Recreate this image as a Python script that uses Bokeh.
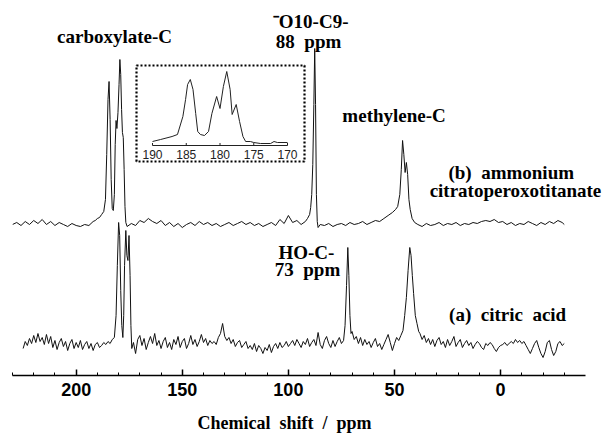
from bokeh.plotting import figure
from bokeh.models import Range1d, FixedTicker, Label
from bokeh.embed import file_html
from bokeh.resources import INLINE

# ---------------- data ----------------
# (b) ammonium citratoperoxotitanate: chemical shift (ppm) and intensity above its baseline
b_ppm = [230, 228, 226, 224, 222, 220, 218, 216, 214, 212, 210, 208, 206, 204, 202, 200, 198, 196, 194, 192,
         191, 190, 189, 188, 187, 186.2, 185.6, 185, 184.5, 184, 183.5, 183, 182.5, 182, 181.6, 181.2, 180.8,
         180.3, 179.8, 179.4, 179, 178.6, 178.2, 177.8, 177.4, 177, 176.6, 176,
         174, 172, 170, 168, 166, 164, 162, 160, 158, 156, 154, 152, 150, 148, 146, 144, 142, 140, 138, 136,
         134, 132, 130, 128, 126, 124, 122, 120, 118, 116, 114, 112, 110, 108, 106, 104, 102, 100, 98, 96, 94,
         92, 91, 90, 89.5, 89, 88.5, 88, 87.6, 87.2, 86.8, 86.4, 86,
         85, 83, 81, 79, 77, 75, 73, 71, 69, 67, 65, 63, 61, 59, 57, 55, 53, 51, 49.5, 48.5, 47.5, 46.8, 46.2,
         45.6, 45, 44.4, 43.8, 43.2, 42.6, 41.7, 40.5, 39, 37, 35, 33, 31, 29, 27, 25, 23, 21, 19, 17, 15, 13,
         11, 9, 7, 5, 3, 1, -1, -3, -5, -7, -9, -11, -13, -15, -17, -19, -21, -23, -25, -27, -29, -30]
b_int = [0, 2, -1, 3, 0, 4, 1, 5, 0, 3, -1, 2, 0, -2, 1, -1, -2, 0, -1, 3,
         4, 6, 7, 10, 13, 25, 70, 125, 143, 105, 45, 16, 14, 30, 80, 104, 96,
         112, 140, 165, 150, 115, 92, 87, 55, 18, 2, -2,
         1, -1, 4, 2, 6, 3, 1, 4, -1, 2, -2, 1, -3, 0, 2, -1, 3, 0, 2, -1,
         1, -2, 0, 2, -1, 1, 3, 0, 2, -1, 1, -2, 0, 2, -1, 5, 1, 9, 2, 4, 0,
         3, 6, 10, 17, 30, 60, 120, 176, 120, 30, 3, -3,
         0, -1, 1, -2, 0, 1, -1, 2, 0, 1, 3, 0, 2, 4, 3, 6, 9, 12, 15, 18, 30, 55, 84,
         70, 52, 62, 50, 25, 15, 6, 2, 0, -2, 1, -1, 0, 2, -1, 1, 0, 2, -1, 1, 0, 2,
         1, 3, 4, 3, 5, 2, 3, 0, 2, -1, 1, 0, 3, 1, -1, 2, 0, 3, 1, 4, 2, 0]

# (a) citric acid
a_ppm = [225, 224, 223, 222, 221, 220, 219, 218, 217, 216, 215, 214, 213, 212, 211, 210, 209, 208, 207, 206,
         205, 204, 203, 202, 201, 200, 199, 198, 197, 196, 195, 194, 193, 192, 191, 190, 189, 188, 187, 186,
         185, 184, 183, 182, 181.2, 180.6, 180, 179.5, 179, 178.5, 178, 177.6, 177.2, 176.6, 176.1, 175.6,
         175.1, 174.6, 174.2, 173.8, 173, 172, 171, 170, 169, 168, 167, 166, 165, 164, 163, 162, 161, 160,
         159, 158, 157, 156, 155, 154, 153, 152, 151, 150, 149, 148, 147, 146, 145, 144, 143, 142, 141, 140,
         139, 138, 137, 136, 135, 134, 133, 132, 131, 130, 129, 128, 127, 126, 125, 124, 123, 122, 121, 120,
         119, 118, 117, 116, 115, 114, 113, 112, 111, 110, 109, 108, 107, 106, 105, 104, 103, 102, 101, 100,
         99, 98, 97, 96, 95, 94, 93, 92, 91, 90, 89, 88, 87, 86, 85, 84, 83, 82, 81, 80, 79, 78, 77, 76, 75,
         74, 73.3, 72.6, 72, 71.5, 71, 70.5, 70, 69, 68, 67, 66, 65, 64, 63, 62, 61, 60, 59, 58, 57, 56, 55,
         54, 53, 52, 51, 50, 49, 48, 47, 46, 45.2, 44.4, 43.6, 42.8, 42.2, 41.6, 41, 40.2, 39.4, 38.6, 38,
         37, 36, 35, 34, 33, 32, 31, 30, 29, 28, 27, 26, 25, 24, 23, 22, 21, 20, 19, 18, 17, 16, 15, 14, 13,
         12, 11, 10, 9, 8, 7, 6, 5, 4, 3, 2, 1, 0, -1, -2, -3, -4, -5, -6, -7, -8, -9, -10, -11, -12, -13,
         -14, -15, -16, -17, -18, -19, -20, -21, -22, -23, -24, -25, -26, -27, -28, -29, -30]
a_int = [-3, 4, 0, 7, 2, 10, 3, 12, 4, 8, 1, 11, 2, 9, -2, 5, -4, 3, 7, -1,
         4, -5, 2, 6, -3, 3, -2, 5, -4, 1, 4, -3, 2, -5, 1, 3, -2, 0, 3, 1,
         4, 2, 6, 8, 30, 80, 123, 110, 55, 20, 8, 30, 80, 115, 90, 85,
         110, 70, 20, -3, 3, -8, 6, 10, 0, 7, -4, 3, 9, 2, 12, 0, 5, -3,
         4, 8, -2, 3, -4, 6, 1, 9, -2, 4, 7, -3, 2, 10, 1, 6, -1, 4, 11, 3,
         7, 0, 5, 2, 4, 1, 8, 12, 22, 9, 5, 8, 2, 6, -1, 3, 5, -2, 1, 4,
         -3, 0, -4, 2, -6, 0, -3, -8, -2, -5, 1, -7, -1, 2, -3, 3, -2, 0, 4, -1,
         2, 5, 0, 6, 2, -2, 4, 1, 7, -1, 3, 6, 0, 13, 1, -3, 5, 9, 2, -2, 5, -1, 4, 8, 2,
         5, 20, 60, 98, 70, 30, 12, 14, 6, 9, 2, 8, 0, 6, 1, 4, -2, 3, 7, -1, 2, -4, 1,
         6, 11, 3, -5, 2, 8, 5, 10, 15, 30, 48, 75, 98, 90, 70, 52, 30, 22, 14, 12,
         6, 10, 3, 7, 1, 6, -1, 5, 8, 1, 4, -2, 6, 0, 4, 9, -1, 3, 6, -2, 2, 5, 0, 3, -3,
         1, 4, 2, -2, -4, 2, 0, 3, 1, -3, -6, -2, 0, 1, 3, 0, 2, 4, 2, 6, 3, 5, 2, 4, 0, -4,
         -8, -3, 2, 5, -2, -8, -12, -6, 3, 5, -4, -10, -6, 2, 4, 0, 2]

# inset: expanded carboxylate region of (b)
inset_ppm = [190.0, 188.8, 187.1, 186.3, 185.5, 185.1, 184.8, 184.4, 184.0, 183.6, 183.3, 182.9, 182.3,
             181.7, 181.2, 180.5, 180.0, 179.5, 179.0, 178.5, 178.2, 177.6, 177.1, 176.6, 176.2, 175.5,
             175.0, 174.0, 172.5, 172.0, 171.5, 170.0]
inset_int = [1, 3, 6, 8, 26, 43, 58, 63, 53, 29, 11, 8, 7, 11, 29, 46, 34, 56, 71, 53, 28, 38, 21, 6, 1, 1,
             0, -1, -1, 1, 0, 0]
inset_ticks = [190, 185, 180, 175, 170]

major_ticks = [200, 150, 100, 50, 0]
minor_ticks = [230, 220, 210, 190, 180, 170, 160, 140, 130, 120, 110, 90, 80, 70, 60, 40, 30, 20, 10,
               -10, -20, -30]
axis_span = (-40, 230)
x_title = "Chemical  shift  /  ppm"

# ---------------- layout ----------------
W, H = 612, 435
FRAME_L, FRAME_R = 12, 610          # frame x (figure px)
PX_PER_PPM = 573.0 / 270.0
X0 = 230
X1 = X0 - (FRAME_R - FRAME_L) / PX_PER_PPM
offset_a, offset_b = 30, 151        # vertical offsets of the two traces
inset_base, inset_axis = 233, 230
NB = "\u00a0"

p = figure(width=W, height=H, output_backend="svg", toolbar_location=None,
           x_range=Range1d(X0, X1), y_range=Range1d(0, 367),
           y_axis_location=None, min_border_left=FRAME_L, min_border_right=W - FRAME_R,
           min_border_top=8, min_border_bottom=60)
p.outline_line_color = None
p.xgrid.visible = False
p.ygrid.visible = False
p.background_fill_color = "white"

ax = p.xaxis[0]
ax.bounds = axis_span
ax.ticker = FixedTicker(ticks=major_ticks, minor_ticks=minor_ticks)
ax.major_tick_in = 6
ax.major_tick_out = 0
ax.minor_tick_in = 3
ax.minor_tick_out = 0
ax.axis_line_width = 1.5
ax.major_tick_line_width = 1.5
ax.minor_tick_line_width = 1
ax.major_label_standoff = 7
ax.major_label_text_font = "Liberation Sans"
ax.major_label_text_font_style = "bold"
ax.major_label_text_font_size = "18px"
ax.major_label_text_color = "black"
# trailing no-break spaces shift the centred title left to where the original has it
ax.axis_label = x_title.replace("  ", NB + NB) + NB * 12
ax.axis_label_text_font = "Liberation Serif"
ax.axis_label_text_font_style = "bold"
ax.axis_label_text_font_size = "18px"
ax.axis_label_text_color = "black"
ax.axis_label_standoff = 14

# traces
p.line(a_ppm, [v + offset_a for v in a_int], line_color="#111111", line_width=1)
p.line(b_ppm, [v + offset_b for v in b_int], line_color="#111111", line_width=1)

# inset on its own x range
px_per_ppm = (287 - 152) / 20.0
frame_px = float(FRAME_R - FRAME_L)
i_start = 190 + (152 - FRAME_L) / px_per_ppm
i_end = i_start - frame_px / px_per_ppm
p.extra_x_ranges = {"inset": Range1d(i_start, i_end)}
p.line(inset_ppm, [v + inset_base for v in inset_int], x_range_name="inset",
       line_color="#222222", line_width=1)
p.segment(x0=[190], y0=[inset_axis], x1=[170], y1=[inset_axis], x_range_name="inset",
          line_color="#222222", line_width=1)
p.segment(x0=inset_ticks, y0=[inset_axis] * 5, x1=inset_ticks, y1=[inset_axis + 2.5] * 5,
          x_range_name="inset", line_color="#222222", line_width=1)
p.text(x=inset_ticks, y=[inset_axis - 9] * 5, text=[str(t) for t in inset_ticks], x_range_name="inset",
       text_align="center", text_baseline="middle", text_font_size="12px",
       text_font={"value": "Liberation Sans"}, text_color="#222222")
p.quad(left=[192.37], right=[167.48], top=[310], bottom=[214], x_range_name="inset",
       fill_color=None, line_color="black", line_width=2.2, line_dash="2 2")


def lab(x, y, t, size="19px", align="center"):
    p.add_layout(Label(x=x, y=y, text=t.replace("  ", NB + NB), text_font="Liberation Serif",
                       text_font_style="bold", text_font_size=size, text_align=align,
                       text_baseline="middle", text_color="black"))


lab(181.9, 339, "carboxylate-C")
lab(89.5, 354, "\u207bO10-C9-")
lab(90.5, 334, "88  ppm")
lab(50.2, 260, "methylene-C")
lab(-5.0, 203, "(b)  ammonium")
lab(-7.0, 185, "citratoperoxotitanate")
lab(91.5, 123, "HO-C-")
lab(91.0, 106, "73  ppm")
lab(-3.3, 61, "(a)  citric  acid")

open("out.html", "w").write(file_html(p, INLINE))
